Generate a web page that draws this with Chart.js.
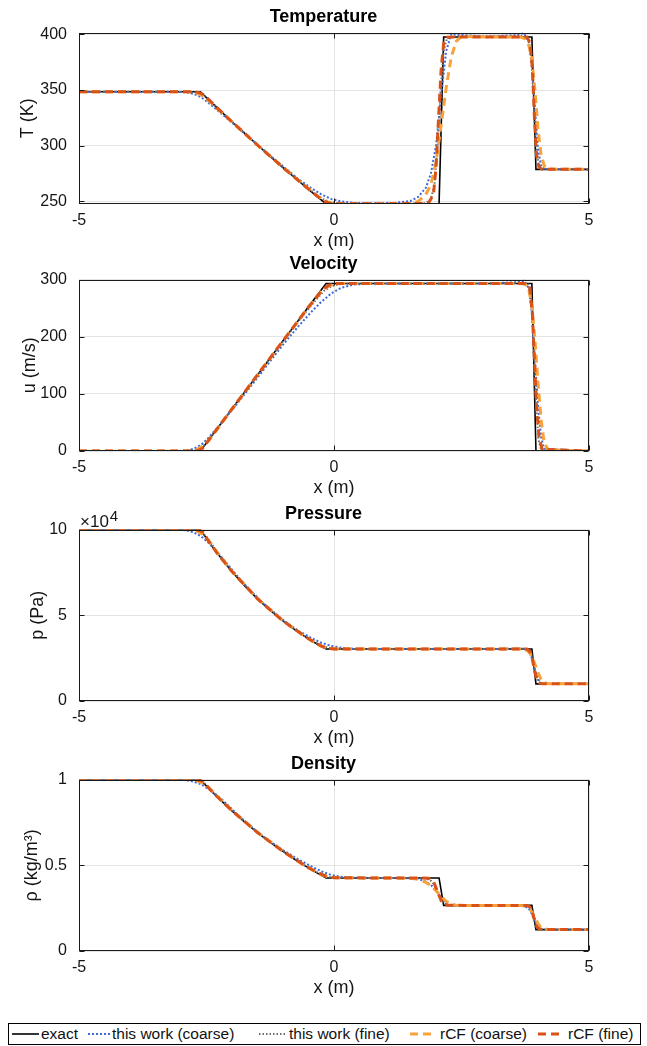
<!DOCTYPE html>
<html>
<head>
<meta charset="utf-8">
<script src="https://cdn.jsdelivr.net/npm/chart.js@4.4.1/dist/chart.umd.min.js"></script>
<style>
  html, body { margin: 0; padding: 0; background: #fff; }
  #page { position: relative; width: 647px; height: 1046px; overflow: hidden;
    font-family: 'Liberation Sans', Arial, Helvetica, sans-serif; color: #111; }
  .panel { position: absolute; left: 0; width: 647px; height: 255px; }
  #legend { position: absolute; left: 8px; top: 1023px; width: 631px; height: 20px;
    border: 1px solid #000; background: #fff; font-size: 15.5px; }
  #legend svg, #legend span { position: absolute; top: 0; }
  #legend span { line-height: 20px; white-space: nowrap; }
</style>
</head>
<body>
<div id="page">
  <canvas class="panel" id="cT" width="647" height="255" style="top:0px"></canvas>
  <canvas class="panel" id="cU" width="647" height="255" style="top:247px"></canvas>
  <canvas class="panel" id="cP" width="647" height="255" style="top:497px"></canvas>
  <canvas class="panel" id="cR" width="647" height="255" style="top:747px"></canvas>
  <div id="legend"></div>
</div>
<script>
// tick labels
const xTicks = [-5, 0, 5];
const tempTicks = [250, 300, 350, 400];
const velTicks = [0, 100, 200, 300];
const presTicks = [0, 50000, 100000];
const rhoTicks = [0, 0.5, 1];

// exact solution
const exactX = [-5, -2.62, -2.45, -2.3, -2.0, -1.75, -1.5, -1.25, -1.0, -0.75, -0.5, -0.3, -0.155, 2.06, 2.15, 3.88, 3.96, 5];
const exactT = [348.4, 348.4, 341.0, 334.4, 321.5, 311.0, 300.6, 290.4, 280.3, 270.5, 260.8, 253.2, 247.7, 247.7, 397.7, 397.7, 278.7, 278.7];
const exactU = [0, 0, 20.1, 38.0, 73.7, 103.5, 133.2, 163.0, 192.8, 222.5, 252.3, 276.1, 293.3, 293.3, 293.3, 293.3, 0, 0];
const exactP = [100000, 100000, 92700, 86620, 75470, 67150, 59620, 52830, 46710, 41210, 36270, 32700, 30310, 30310, 30310, 30310, 10000, 10000];
const exactRho = [1, 1, 0.947, 0.902, 0.818, 0.752, 0.691, 0.634, 0.581, 0.531, 0.485, 0.450, 0.426, 0.426, 0.266, 0.266, 0.125, 0.125];

// this work (coarse)
const coarseX = [-5, -3.1, -2.9, -2.75, -2.6, -2.45, -2.2, -1.8, -1.4, -1.0, -0.7, -0.45, -0.25, -0.05, 0.15, 0.4, 0.7, 1.2, 1.5, 1.65, 1.8, 1.9, 2.0, 2.1, 2.2, 2.3, 2.5, 3.0, 3.6, 3.72, 3.82, 3.88, 3.94, 4.0, 4.06, 4.12, 5];
const coarseT = [348.4, 348.4, 348.0, 346.5, 343.5, 338.0, 328.5, 312.8, 296.8, 281.5, 270.0, 262.0, 256.3, 252.0, 249.8, 248.6, 248.2, 248.5, 250.3, 254.0, 262.0, 275.0, 300.0, 345.0, 385.0, 400.5, 399.5, 398.0, 399.5, 401.2, 393.0, 372.0, 334.0, 297.0, 282.0, 279.0, 278.7];
const coarseU = [0, 0, 0.5, 4, 11, 24, 50, 94, 140, 186, 218, 243, 261, 276, 286, 291.5, 293, 293.3, 293.3, 293.3, 293.3, 293.3, 293.3, 293.3, 293.3, 293.3, 293.3, 293.3, 295.5, 298, 285, 240, 160, 80, 25, 4, 0];
const coarseP = [100000, 100000, 99600, 98300, 96000, 92000, 83800, 69500, 57400, 47300, 41000, 36800, 34000, 32100, 31000, 30500, 30350, 30313, 30313, 30313, 30313, 30313, 30313, 30313, 30313, 30313, 30313, 30313, 30500, 30600, 29000, 25000, 18500, 12800, 10500, 10050, 10000];
const coarseRho = [1, 1, 0.997, 0.988, 0.972, 0.944, 0.885, 0.77, 0.67, 0.588, 0.535, 0.495, 0.465, 0.443, 0.432, 0.428, 0.4265, 0.4263, 0.425, 0.42, 0.405, 0.385, 0.355, 0.31, 0.275, 0.264, 0.265, 0.2656, 0.266, 0.264, 0.248, 0.215, 0.17, 0.138, 0.127, 0.125, 0.125];

// this work (fine)
const fineX = [-5, -2.8, -2.68, -2.56, -2.45, -2.3, -2.0, -1.5, -1.0, -0.6, -0.35, -0.2, -0.05, 0.1, 0.3, 1.0, 1.8, 1.9, 1.97, 2.03, 2.09, 2.15, 2.22, 2.4, 3.0, 3.7, 3.8, 3.86, 3.91, 3.96, 4.01, 4.06, 5];
const fineT = [348.4, 348.4, 347.8, 345.6, 341.3, 334.6, 321.6, 300.8, 280.6, 265.0, 256.0, 251.5, 249.0, 248.2, 247.9, 247.8, 248.3, 252.0, 265.0, 300.0, 350.0, 385.0, 397.0, 398.5, 397.8, 398.5, 397.0, 385.0, 345.0, 300.0, 283.0, 279.2, 278.7];
const fineU = [0, 0, 1.5, 8, 20, 37.5, 73.5, 133, 192, 238, 265, 280, 288.5, 292, 293.2, 293.3, 293.3, 293.3, 293.3, 293.3, 293.3, 293.3, 293.3, 293.3, 293.3, 294.5, 294, 275, 200, 90, 20, 2, 0];
const fineP = [100000, 100000, 99500, 97800, 93800, 87200, 75700, 59800, 46900, 38400, 34000, 31800, 30800, 30400, 30320, 30313, 30313, 30313, 30313, 30313, 30313, 30313, 30313, 30313, 30313, 30450, 30300, 28500, 22500, 15000, 11000, 10100, 10000];
const fineRho = [1, 1, 0.996, 0.984, 0.955, 0.905, 0.82, 0.692, 0.583, 0.504, 0.462, 0.438, 0.43, 0.427, 0.4265, 0.4263, 0.424, 0.41, 0.385, 0.35, 0.31, 0.28, 0.268, 0.2657, 0.2656, 0.2665, 0.265, 0.255, 0.22, 0.165, 0.135, 0.126, 0.125];

// rCF (coarse)
const rcfCoarseX = [-5, -2.85, -2.7, -2.58, -2.45, -2.3, -2.0, -1.5, -1.0, -0.6, -0.4, -0.25, -0.1, 0.05, 0.2, 1.0, 1.5, 1.65, 1.8, 1.9, 2.0, 2.1, 2.2, 2.3, 2.4, 2.5, 3.0, 3.65, 3.75, 3.82, 3.88, 3.94, 4.0, 4.06, 4.12, 4.2, 5];
const rcfCoarseT = [348.4, 348.4, 347.5, 344.8, 340.0, 333.8, 321.2, 300.5, 280.4, 265.2, 257.6, 252.2, 248.8, 247.8, 247.6, 247.7, 248.0, 250.0, 256.0, 265.0, 285.0, 318.0, 352.0, 380.0, 394.0, 398.2, 397.7, 397.7, 396.0, 390.0, 378.0, 350.0, 315.0, 292.0, 282.0, 279.0, 278.7];
const rcfCoarseU = [0, 0, 2, 8, 19, 37, 73, 133, 192.5, 240, 263, 279, 289, 292.8, 293.3, 293.3, 293.3, 293.3, 293.3, 293.3, 293.3, 293.3, 293.3, 293.3, 293.3, 293.3, 293.3, 293.3, 292, 282, 255, 195, 120, 55, 15, 2, 0];
const rcfCoarseP = [100000, 100000, 99300, 97300, 93300, 87100, 75700, 59700, 46800, 38300, 34500, 31900, 30700, 30350, 30313, 30313, 30313, 30313, 30313, 30313, 30313, 30313, 30313, 30313, 30313, 30313, 30313, 30313, 30000, 28700, 26000, 21500, 16500, 12800, 10800, 10100, 10000];
const rcfCoarseRho = [1, 1, 0.995, 0.98, 0.952, 0.905, 0.82, 0.692, 0.582, 0.502, 0.468, 0.444, 0.431, 0.427, 0.4263, 0.4263, 0.424, 0.418, 0.40, 0.382, 0.352, 0.318, 0.29, 0.273, 0.267, 0.2658, 0.2656, 0.2656, 0.262, 0.25, 0.228, 0.195, 0.16, 0.138, 0.129, 0.126, 0.125];

// rCF (fine)
const rcfFineX = [-5, -2.75, -2.66, -2.57, -2.45, -2.3, -2.0, -1.5, -1.0, -0.5, -0.3, -0.2, -0.1, 0.0, 1.0, 1.85, 1.95, 2.0, 2.05, 2.1, 2.15, 2.22, 3.0, 3.78, 3.84, 3.89, 3.93, 3.97, 4.02, 4.08, 5];
const rcfFineT = [348.4, 348.4, 347.9, 346.2, 341.1, 334.4, 321.5, 300.6, 280.3, 260.9, 253.6, 250.3, 248.3, 247.8, 247.7, 248.2, 256, 280, 325, 368, 392, 397.5, 397.7, 397.7, 393, 370, 325, 292, 280.5, 278.8, 278.7];
const rcfFineU = [0, 0, 1, 5, 20, 38, 73.7, 133.2, 192.8, 252, 274, 284, 290.5, 293, 293.3, 293.3, 293.3, 293.3, 293.3, 293.3, 293.3, 293.3, 293.3, 293.3, 285, 240, 160, 80, 25, 3, 0];
const rcfFineP = [100000, 100000, 99700, 98500, 92800, 86600, 75500, 59600, 46700, 36300, 32900, 31500, 30600, 30350, 30313, 30313, 30313, 30313, 30313, 30313, 30313, 30313, 30313, 30313, 29000, 24500, 18000, 13000, 10600, 10050, 10000];
const rcfFineRho = [1, 1, 0.998, 0.99, 0.948, 0.903, 0.818, 0.691, 0.581, 0.486, 0.455, 0.442, 0.432, 0.427, 0.4263, 0.425, 0.405, 0.37, 0.33, 0.295, 0.274, 0.2665, 0.2656, 0.2656, 0.258, 0.225, 0.18, 0.145, 0.13, 0.1255, 0.125];

const FONT = "'Liberation Sans', Arial, Helvetica, sans-serif";
Chart.defaults.font.family = FONT;
Chart.defaults.color = '#151515';

const seriesX = [exactX, coarseX, fineX, rcfCoarseX, rcfFineX];
const seriesStyle = [
  { label: 'exact', color: '#000000', width: 1.6, dash: [], order: 5 },
  { label: 'this work (coarse)', color: '#3d6ad6', width: 2, dash: [2, 2], order: 4 },
  { label: 'this work (fine)', color: '#6c6c6c', width: 2, dash: [1.5, 2], order: 3 },
  { label: 'rCF (coarse)', color: '#f9a23c', width: 3, dash: [8, 5], order: 2 },
  { label: 'rCF (fine)', color: '#d95319', width: 3, dash: [8, 5], order: 1 },
];

const panels = [
  { id: 'cT', title: 'Temperature', yLabel: 'T (K)', min: 247.6, max: 401.6, ticks: tempTicks, labelPad: 17,
    values: [exactT, coarseT, fineT, rcfCoarseT, rcfFineT] },
  { id: 'cU', title: 'Velocity', yLabel: 'u (m/s)', min: 0, max: 300, ticks: velTicks, labelPad: 19,
    values: [exactU, coarseU, fineU, rcfCoarseU, rcfFineU] },
  { id: 'cP', title: 'Pressure', yLabel: 'p (Pa)', min: 0, max: 100000, ticks: presTicks, labelPad: 27,
    values: [exactP, coarseP, fineP, rcfCoarseP, rcfFineP], exponent: '4', scaleBy: 1e4 },
  { id: 'cR', title: 'Density', yLabel: 'ρ (kg/m³)', min: 0, max: 1, ticks: rhoTicks, labelPad: 21,
    values: [exactRho, coarseRho, fineRho, rcfCoarseRho, rcfFineRho] },
];

// box, inward tick marks and the x10^n note, MATLAB style
const axesBox = {
  id: 'axesBox',
  afterDatasetsDraw(chart, args, opts) {
    const { ctx, chartArea: a, scales } = chart;
    const len = 5;
    const L = Math.round(a.left) + 0.5, R = Math.round(a.right) - 0.5;
    const T = Math.round(a.top) + 0.5, B = Math.round(a.bottom) - 0.5;
    ctx.save();
    ctx.strokeStyle = '#1a1a1a';
    ctx.lineWidth = 1;
    ctx.beginPath();
    scales.x.ticks.forEach(t => {
      const px = Math.round(scales.x.getPixelForValue(t.value)) + 0.5;
      ctx.moveTo(px, B); ctx.lineTo(px, B - len);
      ctx.moveTo(px, T); ctx.lineTo(px, T + len);
    });
    scales.y.ticks.forEach(t => {
      const py = Math.round(scales.y.getPixelForValue(t.value)) + 0.5;
      ctx.moveTo(L, py); ctx.lineTo(L + len, py);
      ctx.moveTo(R, py); ctx.lineTo(R - len, py);
    });
    ctx.stroke();
    ctx.strokeRect(L, T, R - L, B - T);
    if (opts.exponent) {
      ctx.fillStyle = '#151515';
      ctx.font = '17px ' + FONT;
      ctx.fillText('×10', a.left + 1, a.top - 3);
      const w = ctx.measureText('×10').width;
      ctx.font = '15px ' + FONT;
      ctx.fillText(opts.exponent, a.left + 2 + w, a.top - 9);
    }
    ctx.restore();
  }
};

panels.forEach(p => {
  const datasets = seriesStyle.map((s, k) => ({
    label: s.label,
    data: seriesX[k].map((x, i) => ({ x: x, y: p.values[k][i] })),
    borderColor: s.color,
    backgroundColor: s.color,
    borderWidth: s.width,
    borderDash: s.dash,
    borderCapStyle: 'butt',
    order: s.order,
    pointRadius: 0,
    tension: 0,
    fill: false,
    yAxisID: 'y',
  }));
  new Chart(document.getElementById(p.id), {
    type: 'line',
    data: { datasets },
    plugins: [axesBox],
    options: {
      responsive: false, animation: false, devicePixelRatio: 1,
      layout: { padding: { left: 0, right: 0, top: 0, bottom: 3 } },
      plugins: {
        legend: { display: false },
        tooltip: { enabled: false },
        title: {
          display: true, text: p.title, color: '#000',
          font: { size: 18, weight: 'bold' }, padding: { top: 6, bottom: 5 }
        },
        axesBox: { exponent: p.exponent || '' },
      },
      scales: {
        x: {
          type: 'linear', min: -5, max: 5,
          afterBuildTicks: s => { s.ticks = xTicks.map(v => ({ value: v })); },
          afterFit: s => { s.height = 48; },
          ticks: { font: { size: 16 }, padding: 7, maxRotation: 0, autoSkip: false },
          grid: { color: '#e4e4e4', drawTicks: false },
          border: { display: false },
          title: { display: true, text: 'x (m)', font: { size: 18 }, padding: { top: 0, bottom: 0 } },
        },
        y: {
          type: 'linear', position: 'left', min: p.min, max: p.max,
          afterBuildTicks: s => { s.ticks = p.ticks.map(v => ({ value: v })); },
          afterFit: s => { s.width = 79; },
          ticks: {
            font: { size: 16 }, padding: 12,
            callback: v => p.scaleBy ? String(v / p.scaleBy) : String(v)
          },
          grid: { color: '#e4e4e4', drawTicks: false },
          border: { display: false },
          title: { display: true, text: p.yLabel, font: { size: 18 }, padding: { top: p.labelPad, bottom: 0 } },
        },
        yr: {
          type: 'linear', position: 'right', display: true,
          afterFit: s => { s.width = 58; },
          ticks: { display: false },
          grid: { display: false },
          border: { display: false },
        },
      },
    },
  });
});

// legend box along the bottom
const legendPlace = [
  { sx: 3, sw: 27, tx: 32 },
  { sx: 79, sw: 23, tx: 103 },
  { sx: 250, sw: 28, tx: 280 },
  { sx: 401, sw: 21, tx: 431 },
  { sx: 529, sw: 21, tx: 559 },
];
const legend = document.getElementById('legend');
seriesStyle.forEach((s, k) => {
  const pl = legendPlace[k];
  const dash = s.dash.length ? `stroke-dasharray="${s.dash.join(' ')}"` : '';
  legend.insertAdjacentHTML('beforeend',
    `<svg width="${pl.sw}" height="20" style="left:${pl.sx}px"><line x1="0" y1="10" x2="${pl.sw}" y2="10" stroke="${s.color}" stroke-width="${s.width}" ${dash}/></svg>` +
    `<span style="left:${pl.tx}px">${s.label}</span>`);
});
</script>
</body>
</html>
